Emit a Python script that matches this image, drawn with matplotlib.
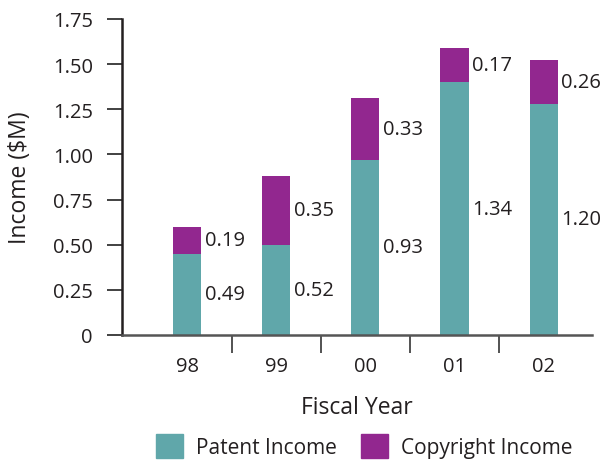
import numpy as np
import matplotlib.pyplot as plt
from matplotlib.patches import Patch

plt.rcParams['font.family'] = ['Open Sans', 'DejaVu Sans']

# Datos
years = ['98', '99', '00', '01', '02']
patent = [0.45, 0.50, 0.97, 1.40, 1.28]      # altura dibujada de las barras
copyright_ = [0.15, 0.38, 0.34, 0.19, 0.24]
patent_labels = ['0.49', '0.52', '0.93', '1.34', '1.20']
copyright_labels = ['0.19', '0.35', '0.33', '0.17', '0.26']
yticks = [0, 0.25, 0.50, 0.75, 1.00, 1.25, 1.50, 1.75]
ytick_labels = ['0', '0.25', '0.50', '0.75', '1.00', '1.25', '1.50', '1.75']

teal = '#60A7AA'
purple = '#92278F'
txt = '#231F20'

fig = plt.figure(figsize=(6.07, 4.64), dpi=100)
ax = fig.add_axes([0.201, 0.276, 0.774, 0.681])

x = np.arange(len(years))
w = 0.315
ax.bar(x, patent, width=w, color=teal)
ax.bar(x, copyright_, width=w, bottom=patent, color=purple)

# etiquetas de valores a la derecha de cada barra
for i in range(len(years)):
    ax.text(x[i] + w / 2 + 0.04, patent[i] / 2, patent_labels[i],
            va='center', ha='left', fontsize=14.5, color=txt)
    ax.text(x[i] + w / 2 + 0.04, patent[i] + copyright_[i] / 2, copyright_labels[i],
            va='center', ha='left', fontsize=14.5, color=txt)

ax.set_ylim(0, 1.75)
ax.set_xlim(-0.73, 4.54)
ax.set_yticks(yticks)
ax.set_yticklabels(ytick_labels, fontsize=14.5, color=txt)
ax.set_xticks(x)
ax.set_xticklabels(years, fontsize=14.5, color=txt)
ax.tick_params(axis='x', length=0, pad=15)
ax.set_xticks(x[:-1] + 0.5, minor=True)
ax.tick_params(axis='x', which='minor', length=13, width=1.3, color='#444444')
ax.tick_params(axis='y', length=11, width=1.3, color='#333333', pad=10)

for s in ['top', 'right']:
    ax.spines[s].set_visible(False)
ax.spines['left'].set_linewidth(1.8)
ax.spines['left'].set_color('#231F20')
ax.spines['bottom'].set_linewidth(1.8)
ax.spines['bottom'].set_color('#555555')

ax.set_ylabel('Income ($M)', fontsize=16.5, color=txt, labelpad=15)
ax.set_xlabel('Fiscal Year', fontsize=16.5, color=txt, labelpad=14)

handles = [Patch(color=teal, label='Patent Income'),
           Patch(color=purple, label='Copyright Income')]
fig.legend(handles=handles, loc='lower center', bbox_to_anchor=(0.6, -0.03),
           ncol=2, frameon=False, fontsize=15, handlelength=1.3, handleheight=1.4,
           columnspacing=1.2, handletextpad=0.6, labelcolor=txt)

fig.savefig('out.png', dpi=100)
